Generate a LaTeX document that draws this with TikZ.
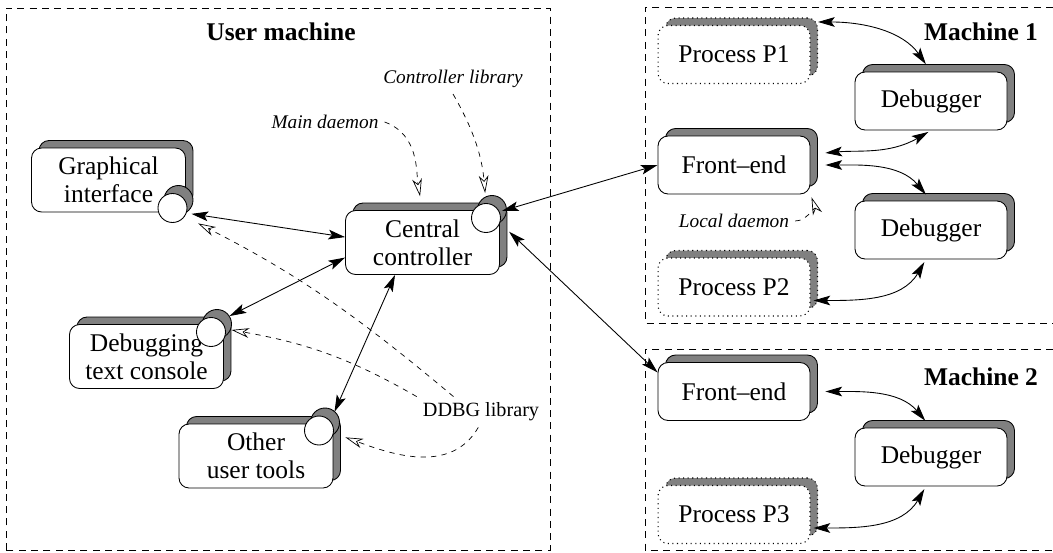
\documentclass[tikz,border=0pt]{standalone}
\usepackage{fontspec}
\setmainfont{Liberation Serif}
\usetikzlibrary{arrows.meta,shadows}
\tikzstyle{frame} = [dash pattern=on 4pt off 3pt,line width=0.5pt]
\tikzstyle{title} = [font=\fontsize{14.5}{16}\selectfont\bfseries]
\tikzstyle{note} = [font=\fontsize{11}{13}\selectfont\itshape]
\tikzstyle{tool} = [draw,fill=white,rounded corners=0.2cm,line width=0.5pt,align=center,font=\fontsize{14.5}{16}\selectfont,minimum width=3.08cm,minimum height=1.28cm,general shadow={fill=gray,draw=black,shadow xshift=0.15cm,shadow yshift=0.15cm}]
\tikzstyle{comp} = [tool,minimum width=3.04cm,minimum height=1.16cm]
\tikzstyle{proc} = [draw,dotted,fill=white,rounded corners=0.2cm,line width=0.6pt,font=\fontsize{14.5}{16}\selectfont,minimum width=3.04cm,minimum height=1.16cm,general shadow={fill=gray,draw=black,dotted,shadow xshift=0.15cm,shadow yshift=0.15cm}]
\tikzstyle{port} = [circle,draw,fill=white,line width=0.5pt,inner sep=0pt,minimum size=0.58cm,general shadow={fill=gray,draw=black,shadow xshift=0.12cm,shadow yshift=0.16cm}]
\tikzstyle{link} = [<->,>={Stealth[length=9.5pt,width=5.5pt,inset=2pt]},line width=0.5pt]
\tikzstyle{hint} = [->,>={Stealth[open,length=10pt,width=5.5pt,inset=3pt]},dash pattern=on 3pt off 3pt,line width=0.4pt]

\begin{document}
\begin{tikzpicture}[x=0.02cm,y=0.02cm]
	\useasboundingbox (0,0) rectangle (1053,552);
	%Frames
	\draw[frame] (6,2) rectangle (550,544);
	\draw[frame] (1053,545) -- (645,545) -- (645,229) -- (1053,229);
	\draw[frame] (1053,203) -- (645,203) -- (645,2) -- (1053,2);
	\node[title] (user) at (281,520) {User machine};
	\node[title] (m1) at (981,520) {Machine 1};
	\node[title] (m2) at (981,175) {Machine 2};

	%Nodes
	\node[tool] (gi) at (108.5,372) {Graphical\\interface};
	\node[tool] (cc) at (422.5,309.5) {Central\\controller};
	\node[tool] (dc) at (146.5,195.5) {Debugging\\text console};
	\node[tool] (ot) at (256,96) {Other\\user tools};

	\node[port] (gi-p) at (172.5,344) {};
	\node[port] (cc-p) at (486,334) {};
	\node[port] (dc-p) at (211,220) {};
	\node[port] (ot-p) at (319,121.5) {};

	\node[proc] (p1) at (734,497.5) {Process P1};
	\node[comp] (db1) at (931,451) {Debugger};
	\node[comp] (fe1) at (734,387) {Front--end};
	\node[comp] (db2) at (931,322) {Debugger};
	\node[proc] (p2) at (734,265) {Process P2};

	\node[comp] (fe2) at (734,160.5) {Front--end};
	\node[comp] (db3) at (931,95) {Debugger};
	\node[proc] (p3) at (734,37.5) {Process P3};

	\node[note] (md) at (325,430) {Main daemon};
	\node[note] (cl) at (453,473) {Controller library};
	\node[note] (ld) at (734,331) {Local daemon};
	\node[font=\fontsize{11.5}{13}\selectfont] (ddbg) at (481,140) {DDBG library};

	%Lines
	\draw[link,shorten <=0.1cm] (gi-p.-20) -- (cc.176);
	\draw[link,shorten >=0.2cm] (cc.191) -- (dc-p.50);
	\draw[link,shorten >=0.2cm] ([xshift=-0.55cm]cc.south) -- (ot-p.40);
	\draw[link,shorten <=0.05cm] (cc-p.25) -- (fe1.west);
	\draw[link,shorten <=0.25cm] (cc-p.-20) -- (fe2.166);

	\draw[link,shorten >=0.18cm] ([xshift=0.15cm,yshift=0.06cm]p1.north east) to[out=0,in=125] (db1.north);
	\draw[link,shorten <=0.3cm,shorten >=0.06cm] (fe1.8) to[out=5,in=-150] (db1.south);
	\draw[link,shorten <=0.3cm,shorten >=0.16cm] (fe1.east) to[out=0,in=130] (db2.north);
	\draw[link,shorten <=0.06cm,shorten >=0.06cm] (p2.-10) to[out=0,in=-120] (db2.260);
	\draw[link,shorten <=0.3cm,shorten >=0.18cm] (fe2.east) to[out=0,in=130] (db3.north);
	\draw[link,shorten <=0.06cm,shorten >=0.06cm] (p3.-10) to[out=0,in=-120] (db3.260);

	%Library hints
	\draw[hint,shorten >=0.28cm] (md.east) to[out=-20,in=100] (cc.north);
	\draw[hint,shorten >=0.2cm] (cl.south) to[out=-60,in=95] (cc-p.north);
	\draw[hint,shorten >=0.06cm] (ld.east) to[out=0,in=-70] (fe1.south east);
	\draw[hint,shorten >=0.3cm] ([xshift=-0.55cm]ddbg.north) to[out=140,in=-27] (gi-p.-35);
	\draw[hint,shorten >=0.12cm] (ddbg.north west) to[out=150,in=-10] (dc-p.12);
	\draw[hint,shorten >=0.25cm] (ddbg.260) to[out=-120,in=-20] (ot-p.-10);
\end{tikzpicture}
\end{document}
